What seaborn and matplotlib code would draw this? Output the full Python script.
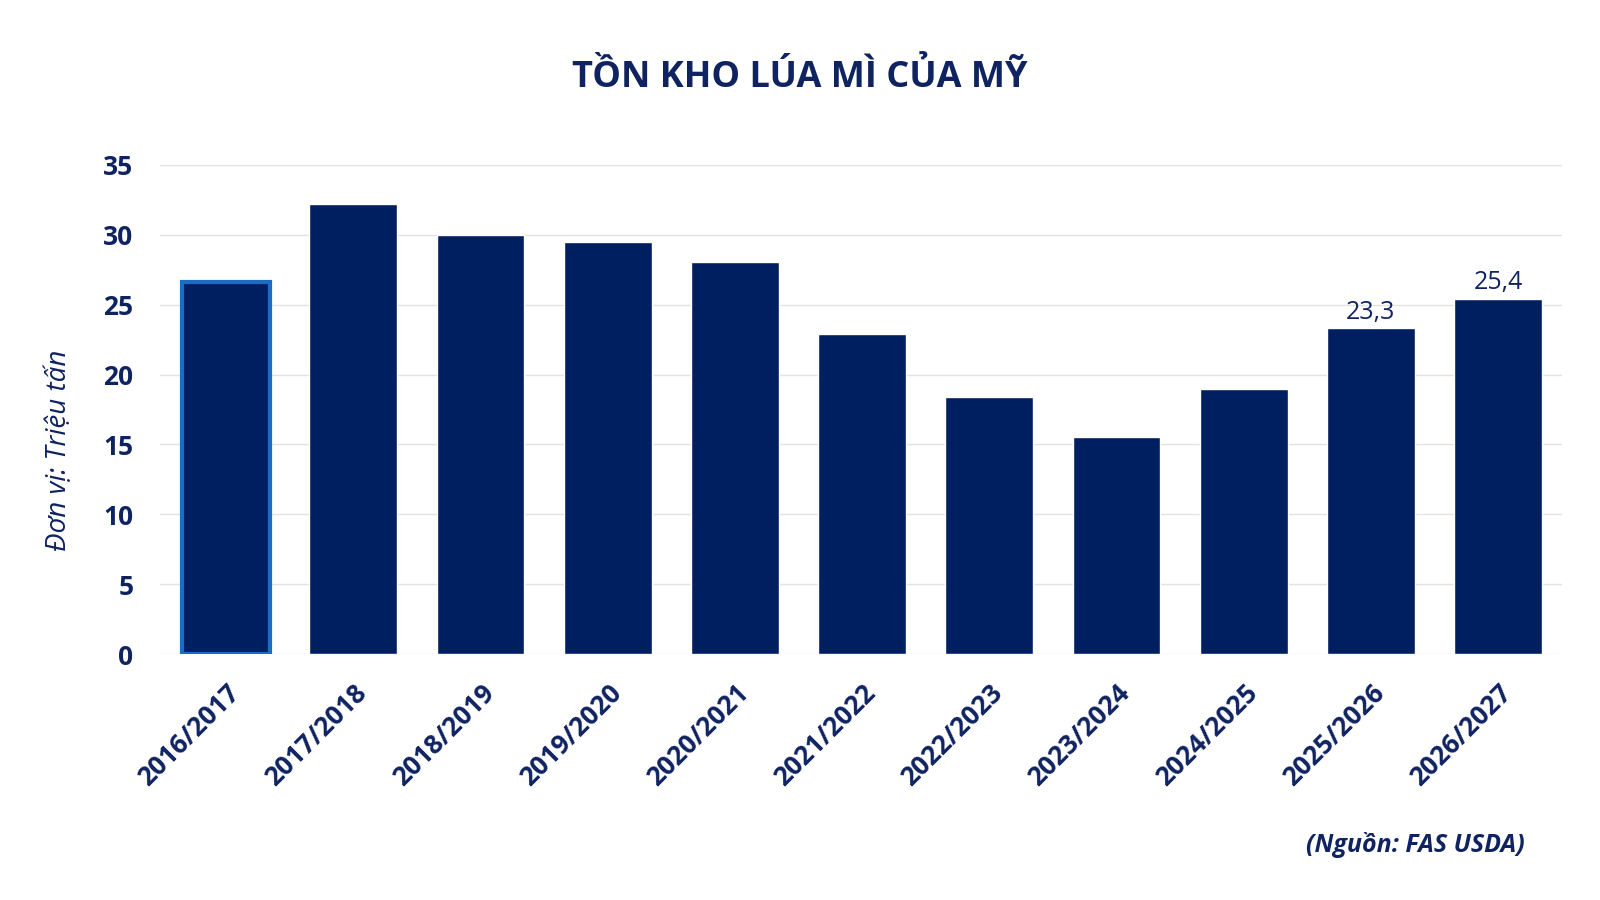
import pandas as pd
import matplotlib.pyplot as plt
import seaborn as sns

# Data
seasons = ['2016/2017', '2017/2018', '2018/2019', '2019/2020', '2020/2021', '2021/2022',
           '2022/2023', '2023/2024', '2024/2025', '2025/2026', '2026/2027']
stocks = [26.6, 32.2, 29.95, 29.5, 28.05, 22.9, 18.4, 15.55, 19.0, 23.3, 25.4]
labelled = {'2025/2026': '23,3', '2026/2027': '25,4'}

navy = '#001f60'
text_col = '#0f2361'

sns.set_theme(style='white')
plt.rcParams['font.family'] = ['Open Sans', 'DejaVu Sans']

data = pd.DataFrame({'season': seasons, 'stock': stocks})

fig = plt.figure(figsize=(16, 9), dpi=100)
ax = fig.add_axes([0.100, 0.273, 0.876, 0.544])

sns.barplot(data=data, x='season', y='stock', color=navy, saturation=1,
            width=0.69, ax=ax)

# First bar is highlighted with a lighter blue outline
first = ax.patches[0]
first.set_edgecolor('#1a6cc4')
first.set_linewidth(3)

# Value labels for the last two seasons
for patch, season in zip(ax.patches, seasons):
    if season in labelled:
        ax.text(patch.get_x() + patch.get_width() / 2, patch.get_height() + 0.25,
                labelled[season], ha='center', va='bottom', fontsize=18, color=text_col)

ax.set_ylim(0, 35)
ax.set_yticks(range(0, 36, 5))
ax.set_xlim(-0.52, len(seasons) - 0.5)
ax.grid(axis='y', color='#e3e3e3', linewidth=1)
ax.set_axisbelow(True)
sns.despine(ax=ax, left=True, bottom=True, top=True, right=True)

ax.tick_params(axis='y', labelsize=19, colors=text_col, length=0, pad=19)
ax.tick_params(axis='x', labelsize=19, colors=text_col, length=0, pad=18)
for lab in ax.get_yticklabels():
    lab.set_fontweight('bold')
for lab in ax.get_xticklabels():
    lab.set_fontweight('bold')
    lab.set_rotation(45)
    lab.set_ha('right')
    lab.set_rotation_mode('anchor')

ax.set_xlabel('')
ax.set_ylabel('')
fig.text(0.037, 0.5, 'Đơn vị: Triệu tấn', rotation=90, ha='center', va='center',
         fontsize=20, style='italic', color=text_col)

fig.text(0.5, 0.913, 'TỒN KHO LÚA MÌ CỦA MỸ', ha='center', va='center',
         fontsize=26, fontweight='bold', color=text_col)
fig.text(0.953, 0.061, '(Nguồn: FAS USDA)', ha='right', va='center',
         fontsize=18, fontweight='bold', style='italic', color=text_col)

fig.savefig('out.png', dpi=100, facecolor='white')
